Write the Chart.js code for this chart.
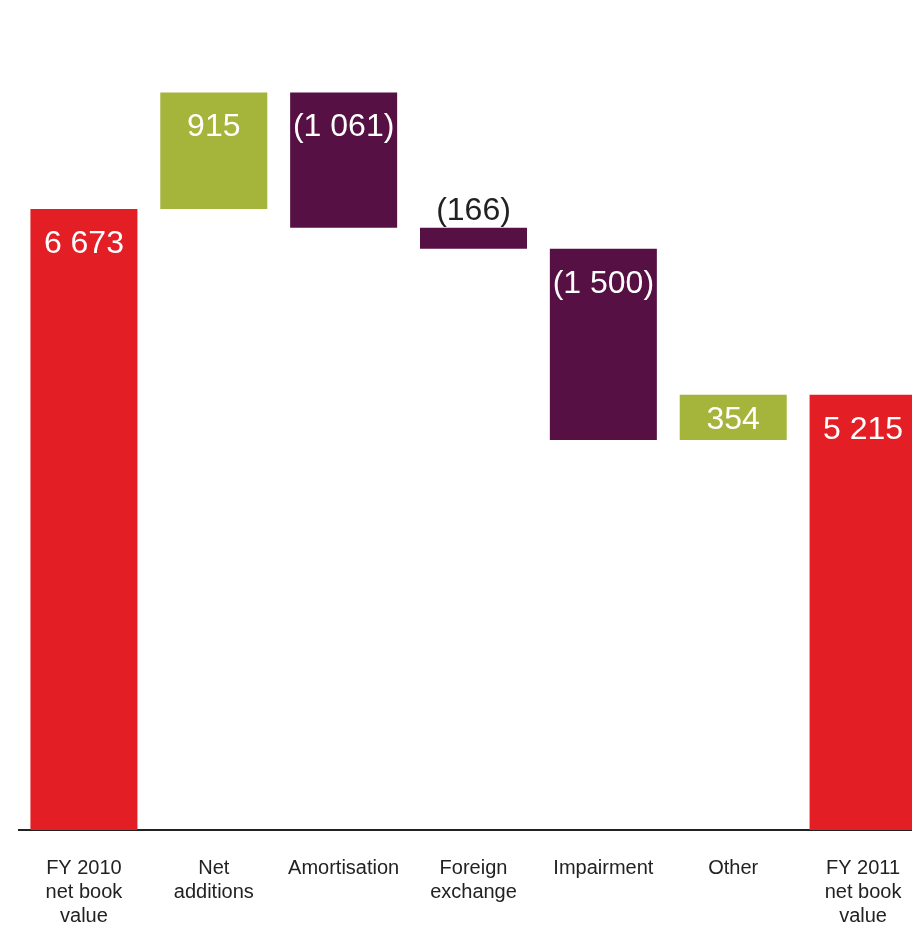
<!DOCTYPE html>
<html>
<head>
<meta charset="utf-8">
<script src="https://cdn.jsdelivr.net/npm/chart.js@4/dist/chart.umd.min.js"></script>
<style>
  html, body { margin: 0; padding: 0; background: #fff; overflow: hidden; }
  #wrap { width: 928px; height: 925px; }
</style>
</head>
<body>
<div id="wrap"><canvas id="bridgeChart" width="928" height="925"></canvas></div>
<script>
// Net book value bridge, FY 2010 -> FY 2011
const categories = [
    ["FY 2010", "net book", "value"],
    ["Net", "additions"],
    "Amortisation",
    ["Foreign", "exchange"],
    "Impairment",
    "Other",
    ["FY 2011", "net book", "value"]
];
const openingValue = 6673;
const movements    = [915, -1061, -166, -1500, 354];
const closingValue = 5215;

const RED    = "#e31e24";
const GREEN  = "#a5b43a";
const PURPLE = "#561043";

// Build floating [low, high] ranges for the waterfall
const ranges = [[0, openingValue]];
const values = [openingValue];
const colors = [RED];
let running = openingValue;
movements.forEach(m => {
    const next = running + m;
    ranges.push([Math.min(running, next), Math.max(running, next)]);
    values.push(m);
    colors.push(m >= 0 ? GREEN : PURPLE);
    running = next;
});
ranges.push([0, closingValue]);
values.push(closingValue);
colors.push(RED);

function fmt(v) {
    const s = Math.abs(v).toString().replace(/\B(?=(\d{3})+(?!\d))/g, " ");
    return v < 0 ? "(" + s + ")" : s;
}

// Value labels: inside the bar near its top, or just above it when the bar is too thin
const barLabels = {
    id: "barLabels",
    afterDatasetsDraw(chart) {
        const ctx = chart.ctx;
        const meta = chart.getDatasetMeta(0);
        ctx.save();
        ctx.font = "32px 'Liberation Sans', Arial, sans-serif";
        ctx.textAlign = "center";
        ctx.textBaseline = "middle";
        meta.data.forEach((bar, i) => {
            const top = Math.min(bar.y, bar.base);
            const h = Math.abs(bar.base - bar.y);
            if (h < 32) {
                ctx.fillStyle = "#222";
                ctx.fillText(fmt(values[i]), bar.x, top - 17);
            } else {
                ctx.fillStyle = "#fff";
                ctx.fillText(fmt(values[i]), bar.x, top + Math.min(35, h / 2 + 3));
            }
        });
        ctx.restore();
    }
};

new Chart(document.getElementById("bridgeChart"), {
    type: "bar",
    data: {
        labels: categories,
        datasets: [{
            data: ranges,
            backgroundColor: colors,
            borderWidth: 0,
            barPercentage: 0.824,
            categoryPercentage: 1
        }]
    },
    options: {
        responsive: false,
        animation: false,
        layout: { padding: { left: 19, right: 0, top: 40, bottom: 0 } },
        plugins: {
            legend: { display: false },
            tooltip: { enabled: false }
        },
        scales: {
            y: {
                display: false,
                min: 1800,
                max: 8000
            },
            x: {
                afterFit(axis) { axis.height = 95; },
                grid: { display: false, drawTicks: false },
                border: { display: true, color: "#222", width: 2 },
                ticks: {
                    color: "#222",
                    padding: 26,
                    autoSkip: false,
                    maxRotation: 0,
                    font: { family: "'Liberation Sans', Arial, sans-serif", size: 20, lineHeight: "24px" }
                }
            }
        }
    },
    plugins: [barLabels]
});
</script>
</body>
</html>
